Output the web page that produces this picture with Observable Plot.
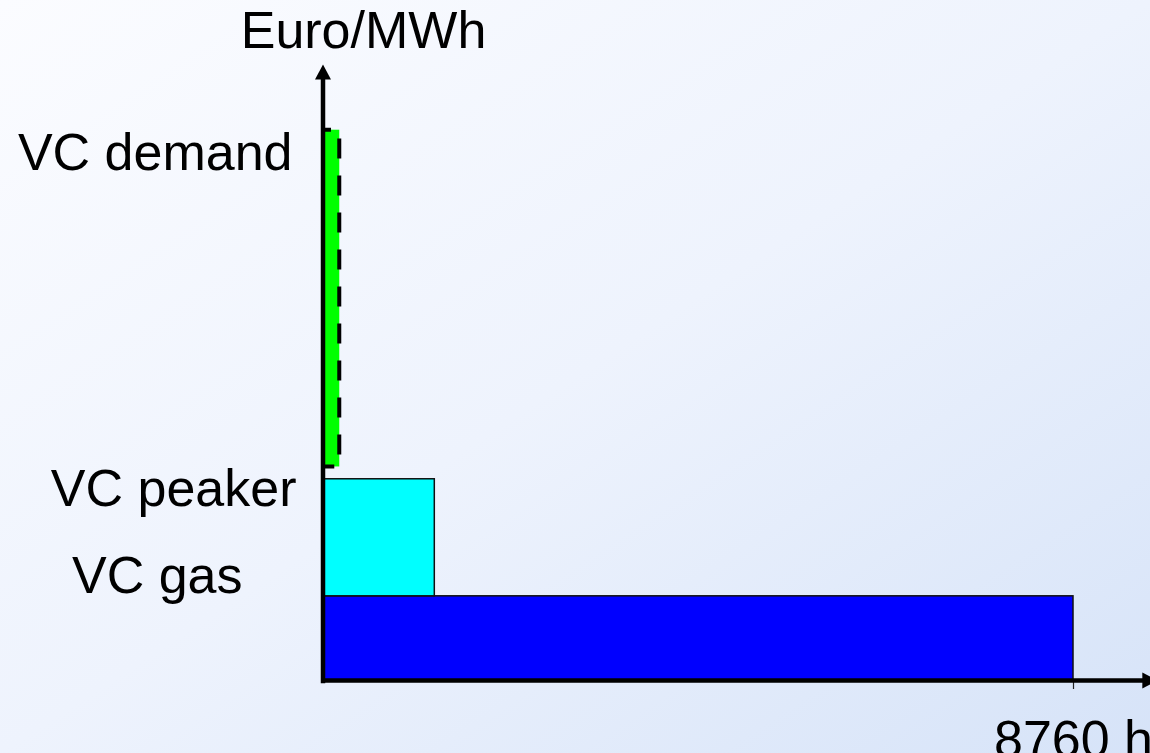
<!DOCTYPE html>
<html>
<head>
<meta charset="utf-8">
<script src="https://cdn.jsdelivr.net/npm/d3@7"></script>
<script src="https://cdn.jsdelivr.net/npm/@observablehq/plot@0.6"></script>
<style>
  html, body { margin: 0; padding: 0; width: 1150px; height: 753px; overflow: hidden; }
  body {
    background: linear-gradient(to bottom right, #fbfcff 0%, #eef3fd 50%, #d6e3f8 100%);
    font-family: "Liberation Sans", Arial, sans-serif;
  }
  #chart svg { display: block; }
</style>
</head>
<body>
<div id="chart"></div>
<script>
// Variable-cost merit order over one year (hours on x, Euro/MWh on y)
const hoursInYear = 8760;
const categories = ["VC gas", "VC peaker", "VC demand"];
const hoursFrom = [0, 0, 0];
const hoursTo = [8760, 1300, 190];
const costFrom = [0, 41, 104];
const costTo = [41, 98, 268];

const blocks = categories.map((name, i) => ({
  name, x1: hoursFrom[i], x2: hoursTo[i], y1: costFrom[i], y2: costTo[i]
}));

const yTop = 300;           // top of the cost axis (arrow tip)
const xAxisEnd = 9740;      // the hour axis runs past the last tick to its arrow

// filled arrowhead, tip pointing up before rotation
const arrowHead = {
  draw(ctx, size) {
    const h = Math.sqrt(size);
    ctx.moveTo(0, 0);
    ctx.lineTo(h * 0.53, h);
    ctx.lineTo(-h * 0.53, h);
    ctx.closePath();
  }
};

const font = "'Liberation Sans', Arial, sans-serif";
const fs = 52;

const labelStyle = {
  "VC demand": {dx: -31, dy: 23},
  "VC peaker": {dx: -27, dy: 10},
  "VC gas": {dx: -81, dy: -20}
};
const labelMarks = blocks.map(b => Plot.text([b], {
  x: 0, y: "y2", text: "name",
  textAnchor: "end", fontSize: fs, fill: "black",
  dx: labelStyle[b.name].dx, dy: labelStyle[b.name].dy
}));

const chart = Plot.plot({
  width: 1150,
  height: 753,
  marginLeft: 323,
  marginRight: 77,
  marginTop: 64,
  marginBottom: 73,
  style: {background: "transparent", overflow: "visible", fontFamily: font},
  x: {domain: [0, hoursInYear]},
  y: {domain: [0, yTop], axis: null},
  marks: [
    // gas and peaker blocks
    Plot.rect(blocks.slice(0, 2), {
      x1: "x1", x2: "x2", y1: "y1", y2: "y2",
      fill: d => d.name === "VC gas" ? "#0000ff" : "#00ffff",
      stroke: "#111", strokeWidth: 1.5
    }),
    // demand bar with dashed outline
    Plot.rect(blocks.slice(2), {
      x1: "x1", x2: "x2", y1: "y1", y2: "y2",
      fill: "#00ff00", stroke: "black", strokeWidth: 4,
      strokeDasharray: "20 17", strokeDashoffset: 12
    }),
    // hour axis tick and label
    Plot.axisX({
      ticks: [hoursInYear], tickFormat: d => `${d} h`,
      tickSize: 9, tickPadding: 31, fontSize: fs, label: null,
      stroke: "#222", strokeWidth: 1.2
    }),
    // axis lines
    Plot.ruleY([0], {x1: 0, x2: xAxisEnd - 120, stroke: "black", strokeWidth: 4.5}),
    Plot.ruleX([0], {y1: -1.6, y2: yTop - 6, stroke: "black", strokeWidth: 4.5, dx: -0.5}),
    // arrowheads
    Plot.dot([{x: 0, y: yTop}], {
      x: "x", y: "y", symbol: arrowHead, r: 8.5, fill: "black", stroke: "none", dx: -0.5
    }),
    Plot.dot([{x: xAxisEnd, y: 0}], {
      x: "x", y: "y", symbol: arrowHead, r: 8.5, fill: "black", stroke: "none", rotate: 90
    }),
    // axis title
    Plot.text(["Euro/MWh"], {
      frameAnchor: "top-left", dx: 40, dy: -17, text: d => d,
      fontSize: fs, fill: "black", textAnchor: "middle", lineAnchor: "bottom"
    }),
    ...labelMarks
  ]
});

document.getElementById("chart").append(chart);
</script>
</body>
</html>
